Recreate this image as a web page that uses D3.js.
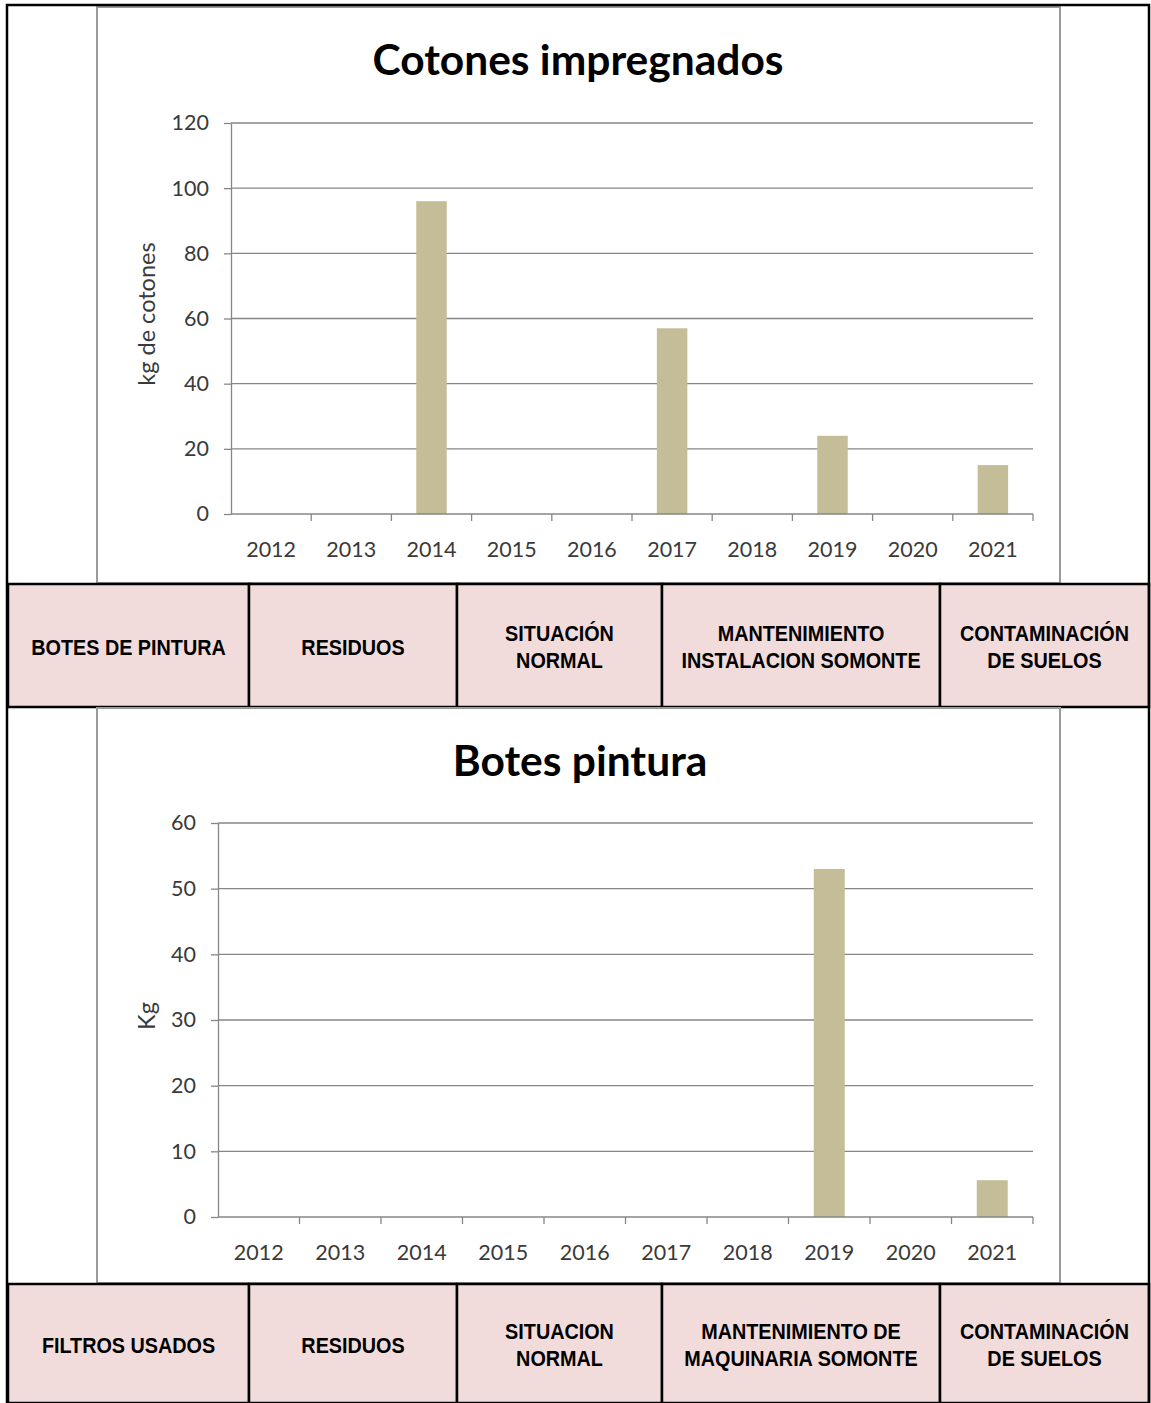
<!DOCTYPE html>
<html>
<head>
<meta charset="utf-8">
<script src="https://cdn.jsdelivr.net/npm/d3@7"></script>
<style>
  body { margin: 0; background: #fff; }
  svg { display: block; }
</style>
</head>
<body>
<div id="chart"></div>
<script>
// data
const years = ['2012', '2013', '2014', '2015', '2016', '2017', '2018', '2019', '2020', '2021'];
const cotones = [0, 0, 96, 0, 0, 57, 0, 24, 0, 15];
const botes = [0, 0, 0, 0, 0, 0, 0, 53, 0, 5.6];
const ticksCotones = [0, 20, 40, 60, 80, 100, 120];
const ticksBotes = [0, 10, 20, 30, 40, 50, 60];

// table rows under each chart
const row1 = [['BOTES DE PINTURA'], ['RESIDUOS'], ['SITUACIÓN', 'NORMAL'], ['MANTENIMIENTO', 'INSTALACION SOMONTE'], ['CONTAMINACIÓN', 'DE SUELOS']];
const row2 = [['FILTROS USADOS'], ['RESIDUOS'], ['SITUACION', 'NORMAL'], ['MANTENIMIENTO DE', 'MAQUINARIA SOMONTE'], ['CONTAMINACIÓN', 'DE SUELOS']];
const colEdges = [8, 249, 457, 662, 940, 1149];

const W = 1151, H = 1403;
const barColor = '#c4bd97';
const gridColor = '#868686';
const font = 'Lato, "Open Sans", sans-serif';

const svg = d3.select('#chart').append('svg')
  .attr('width', W)
  .attr('height', H);

function drawChart(cfg) {
  const g = svg.append('g');

  // chart frame
  g.append('rect')
    .attr('x', cfg.frame[0]).attr('y', cfg.frame[1])
    .attr('width', cfg.frame[2] - cfg.frame[0])
    .attr('height', cfg.frame[3] - cfg.frame[1])
    .attr('fill', '#fff')
    .attr('stroke', '#9a9a9a')
    .attr('stroke-width', 2);

  const slot = d3.scaleBand().domain(years).range([cfg.x0, cfg.x1]);
  const x = d3.scaleBand().domain(years).range([cfg.x0, cfg.x1])
    .paddingInner(0.62).paddingOuter(0.31);
  const y = d3.scaleLinear().domain([0, d3.max(cfg.ticks)]).range([cfg.yBase, cfg.yTop]);

  // gridlines
  g.selectAll('.grid')
    .data(cfg.ticks.filter(d => d > 0))
    .enter().append('line')
    .attr('x1', cfg.x0).attr('x2', cfg.x1)
    .attr('y1', d => y(d)).attr('y2', d => y(d))
    .attr('stroke', gridColor)
    .attr('stroke-width', 1.3);

  // y axis
  const ya = g.append('g')
    .attr('transform', `translate(${cfg.x0},0)`)
    .call(d3.axisLeft(y).tickValues(cfg.ticks).tickSize(7).tickPadding(15).tickSizeOuter(0));
  ya.select('.domain').attr('stroke', gridColor).attr('stroke-width', 1.3);
  ya.selectAll('.tick line').attr('stroke', gridColor).attr('stroke-width', 1.3);
  ya.selectAll('text')
    .attr('font-family', font).attr('font-size', 21.5).attr('fill', '#3a3a3a');

  // bars
  g.selectAll('.bar')
    .data(cfg.values)
    .enter().append('rect')
    .attr('x', (d, i) => x(years[i]))
    .attr('y', d => y(d))
    .attr('width', x.bandwidth())
    .attr('height', d => y(0) - y(d))
    .attr('fill', barColor);

  // x axis: line plus ticks at slot boundaries
  g.append('line')
    .attr('x1', cfg.x0).attr('x2', cfg.x1)
    .attr('y1', y(0)).attr('y2', y(0))
    .attr('stroke', gridColor).attr('stroke-width', 1.3);
  const edges = years.map(d => slot(d) + slot.bandwidth());
  g.selectAll('.xtick')
    .data(edges)
    .enter().append('line')
    .attr('x1', d => d).attr('x2', d => d)
    .attr('y1', y(0)).attr('y2', y(0) + 7)
    .attr('stroke', gridColor).attr('stroke-width', 1.3);

  const xa = g.append('g')
    .attr('transform', `translate(0,${y(0)})`)
    .call(d3.axisBottom(slot).tickSize(0).tickPadding(28));
  xa.select('.domain').remove();
  xa.selectAll('text')
    .attr('font-family', font).attr('font-size', 21.5).attr('fill', '#3a3a3a');

  // title
  g.append('text')
    .attr('x', cfg.titleX).attr('y', cfg.titleY)
    .attr('text-anchor', 'middle')
    .attr('font-family', font).attr('font-weight', 'bold')
    .attr('font-size', 42.5).attr('fill', '#000')
    .text(cfg.title);

  // y axis title
  g.append('text')
    .attr('transform', `translate(${cfg.labelX},${cfg.labelY}) rotate(-90)`)
    .attr('text-anchor', 'middle')
    .attr('dy', '0.35em')
    .attr('font-family', font).attr('font-size', 23.5).attr('fill', '#3a3a3a')
    .text(cfg.label);
}

function drawRow(cells, top, bottom) {
  const g = svg.append('g');
  g.selectAll('rect')
    .data(cells)
    .enter().append('rect')
    .attr('x', (d, i) => colEdges[i])
    .attr('y', top)
    .attr('width', (d, i) => colEdges[i + 1] - colEdges[i])
    .attr('height', bottom - top)
    .attr('fill', '#f2dcdb')
    .attr('stroke', '#000')
    .attr('stroke-width', 2.5);

  const mid = (top + bottom) / 2;
  cells.forEach((lines, i) => {
    const cx = (colEdges[i] + colEdges[i + 1]) / 2;
    // narrow bold look: squeeze Liberation Sans horizontally
    const t = g.append('text')
      .attr('transform', `translate(${cx},${mid}) scale(0.9,1)`)
      .attr('text-anchor', 'middle')
      .attr('font-family', '"Liberation Sans Narrow", "Arial Narrow", "Liberation Sans", sans-serif')
      .attr('font-weight', 'bold')
      .attr('font-size', 22)
      .attr('fill', '#000');
    lines.forEach((s, j) => {
      t.append('tspan')
        .attr('x', 0)
        .attr('y', (j - (lines.length - 1) / 2) * 28 + 9)
        .text(s);
    });
  });
}

drawChart({
  frame: [97, 7, 1060, 583],
  x0: 231, x1: 1033, yBase: 514, yTop: 123,
  ticks: ticksCotones, values: cotones,
  title: 'Cotones impregnados', titleX: 578, titleY: 75,
  label: 'kg de cotones', labelX: 147, labelY: 314
});
drawRow(row1, 584, 707);

drawChart({
  frame: [97, 708, 1060, 1283],
  x0: 218, x1: 1033, yBase: 1217, yTop: 823,
  ticks: ticksBotes, values: botes,
  title: 'Botes pintura', titleX: 580, titleY: 776,
  label: 'Kg', labelX: 147, labelY: 1016
});
drawRow(row2, 1284, 1403);

// outer table border
svg.append('rect')
  .attr('x', 7).attr('y', 5)
  .attr('width', 1142).attr('height', 1400)
  .attr('fill', 'none')
  .attr('stroke', '#000')
  .attr('stroke-width', 2.5);
</script>
</body>
</html>
